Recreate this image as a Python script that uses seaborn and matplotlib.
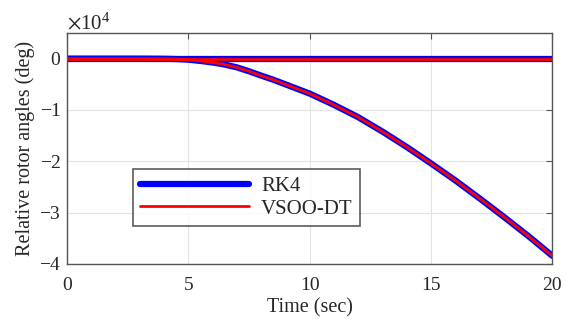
import numpy as np
import pandas as pd
import matplotlib
matplotlib.use("Agg")
import matplotlib.pyplot as plt
import seaborn as sns

# Data (rotor angles in degrees; axis shown as x10^4)
time = [0, 1, 2, 3, 4, 4.5, 5, 5.5, 6, 6.5, 7, 7.5, 8, 8.5, 9, 9.5, 10,
        11, 12, 13, 14, 15, 16, 17, 18, 19, 20]
gen_flat = [0] * len(time)
gen_fall = [0, 0, 0, 0, -30, -80, -200, -450, -750, -1150, -1700, -2450,
            -3300, -4100, -5000, -5900, -6800, -9000, -11400, -14200,
            -17200, -20400, -23700, -27200, -30800, -34500, -38400]
methods = ["RK4", "VSOO-DT"]
colors = {"RK4": "#0000ff", "VSOO-DT": "#ff0000"}
widths = {"RK4": 4.5, "VSOO-DT": 2.0}

rows = []
for m in methods:
    for g, vals in (("flat", gen_flat), ("fall", gen_fall)):
        for t, v in zip(time, vals):
            rows.append({"Time": t, "Angle": v, "Method": m, "Gen": g})
df = pd.DataFrame(rows)

sns.set_style("white")
plt.rcParams['font.family'] = ['Liberation Serif', 'DejaVu Serif']
plt.rcParams['mathtext.fontset'] = 'stix'

fig = plt.figure(figsize=(5.67, 3.2), dpi=100)
ax = fig.add_axes([0.118, 0.175, 0.856, 0.722])

for m in methods:
    for g in ("flat", "fall"):
        sub = df[(df.Method == m) & (df.Gen == g)]
        sns.lineplot(data=sub, x="Time", y="Angle", ax=ax, color=colors[m],
                     linewidth=widths[m], label=m if g == "flat" else None,
                     estimator=None, sort=False)

ax.set_xlim(0, 20)
ax.set_ylim(-40000, 5000)
ax.set_xticks([0, 5, 10, 15, 20])
ax.set_yticks([-40000, -30000, -20000, -10000, 0])
ax.ticklabel_format(style='sci', axis='y', scilimits=(0, 0), useMathText=True)
ax.yaxis.get_offset_text().set_fontsize(15)
ax.grid(True, color="#e3e3e3", linewidth=0.8)
for s in ax.spines.values():
    s.set_color("#555555")
    s.set_linewidth(1.0)
ax.tick_params(direction='in', top=True, right=True, length=4, color="#555555",
               labelsize=14)
ax.tick_params(axis='x', pad=9)
ax.tick_params(axis='y', pad=4)
ax.set_xlabel("Time (sec)", fontsize=14.5, labelpad=3.5)
ax.set_ylabel("Relative rotor angles (deg)", fontsize=14.5, labelpad=3)

leg = ax.legend(loc="lower left", bbox_to_anchor=(0.136, 0.165), fontsize=15,
                handlelength=5.2, handletextpad=0.6, frameon=True, fancybox=False,
                borderaxespad=0, borderpad=0.35, labelspacing=0.15)
leg.get_frame().set_edgecolor("#333333")
leg.get_frame().set_linewidth(1.2)

fig.savefig("out.png", dpi=100)
